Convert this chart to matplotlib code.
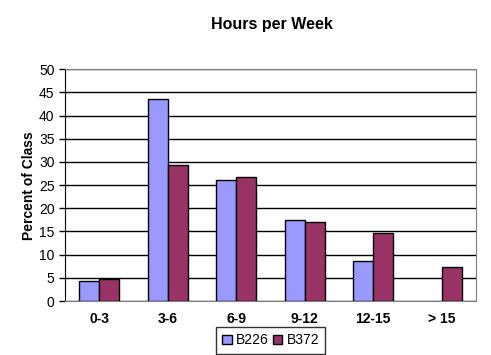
import numpy as np
import matplotlib.pyplot as plt

plt.rcParams['font.family'] = ['Liberation Sans', 'DejaVu Sans']

categories = ['0-3', '3-6', '6-9', '9-12', '12-15', '> 15']
b226 = [4.3, 43.5, 26.0, 17.4, 8.6, 0]
b372 = [4.8, 29.3, 26.7, 17.0, 14.6, 7.3]

fig = plt.figure(figsize=(4.91, 3.55), dpi=100)
ax = fig.add_axes([0.1324, 0.152, 0.837, 0.653])

x = np.arange(len(categories))
w = 0.29
# no outline for empty bars
edges1 = ['black' if v > 0 else 'none' for v in b226]
edges2 = ['black' if v > 0 else 'none' for v in b372]
ax.bar(x - w/2, b226, w, color='#9999FF', edgecolor=edges1, linewidth=1, label='B226', zorder=3)
ax.bar(x + w/2, b372, w, color='#993366', edgecolor=edges2, linewidth=1, label='B372', zorder=3)

ax.set_xlim(-0.5, len(categories) - 0.5)
ax.set_ylim(0, 50)
ax.set_yticks(range(0, 51, 5))
ax.set_xticks(x)
ax.set_xticklabels(categories, fontsize=10, fontweight='bold')
ax.tick_params(axis='y', labelsize=10, length=4, width=1)
ax.tick_params(axis='x', length=0, pad=8)
ax.yaxis.grid(True, color='black', linewidth=1, zorder=0)
ax.set_axisbelow(True)

for s in ['top', 'right', 'bottom']:
    ax.spines[s].set_color('#808080')
ax.spines['left'].set_color('black')

ax.set_ylabel('Percent of Class', fontsize=10, fontweight='bold', labelpad=2)
fig.text(0.553, 0.93, 'Hours per Week', ha='center', va='center', fontsize=11.5, fontweight='bold')

leg = ax.legend(loc='upper center', bbox_to_anchor=(0.5, -0.113), ncol=2, fontsize=10,
                frameon=True, fancybox=False, handlelength=0.7, handleheight=0.7,
                handletextpad=0.3, columnspacing=0.3, borderpad=0.45, borderaxespad=0)
leg.get_frame().set_edgecolor('black')
leg.get_frame().set_linewidth(1)
for h in leg.legend_handles:
    h.set_edgecolor('black')

plt.savefig('out.png', dpi=100)
